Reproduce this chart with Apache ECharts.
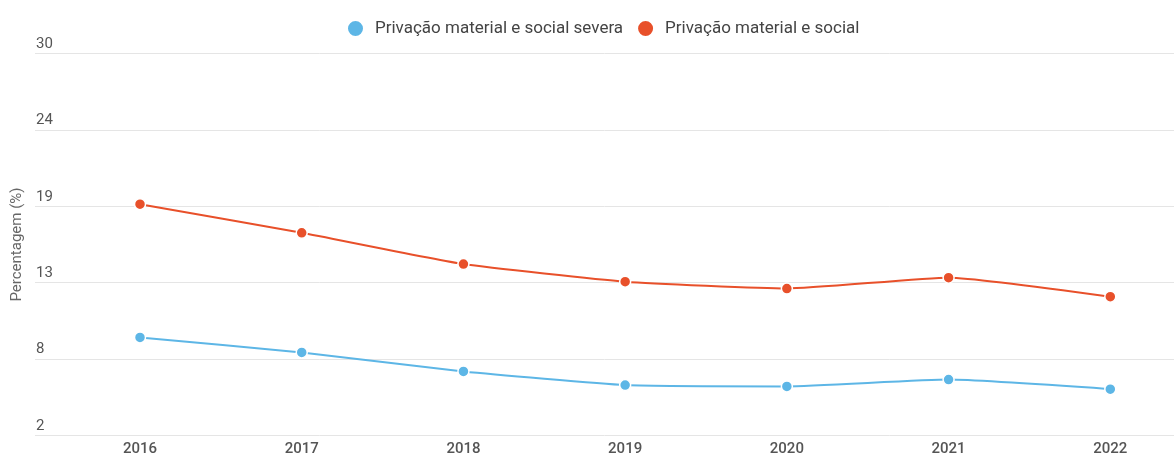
<!DOCTYPE html>
<html>
<head>
<meta charset="utf-8">
<script src="https://cdn.jsdelivr.net/npm/echarts@6/dist/echarts.min.js"></script>
<style>html,body{margin:0;padding:0;background:#fff;}#c{width:1174px;height:457px;}</style>
</head>
<body>
<div id="c"></div>
<script>
const years = ['2016', '2017', '2018', '2019', '2020', '2021', '2022'];
const severa = [9.1, 8.0, 6.6, 5.6, 5.5, 6.0, 5.3];
const social = [18.9, 16.8, 14.5, 13.2, 12.7, 13.5, 12.1];
const seriesNames = ['Privação material e social severa', 'Privação material e social'];
const yTicks = [2, 30];

const chart = echarts.init(document.getElementById('c'), null, {renderer: 'canvas'});
const font = 'Roboto, "Noto Sans", sans-serif';
const blue = '#5db6e6';
const red = '#e8502a';
chart.setOption({
  animation: false,
  textStyle: {fontFamily: font},
  legend: {
    top: 14, left: 341, itemWidth: 17, itemHeight: 17, itemGap: 13,
    icon: 'circle',
    textStyle: {fontSize: 17, color: '#444', fontFamily: font, padding: [0, 0, 0, 6]},
    data: seriesNames
  },
  grid: [
    {left: 35, right: 0, top: 53.3, bottom: 21.3, containLabel: false},
    {left: 140, right: 63.7, top: 53.3, bottom: 21.3, containLabel: false}
  ],
  xAxis: [
    {gridIndex: 0, type: 'category', data: years, show: false},
    {gridIndex: 1, type: 'category', data: years, boundaryGap: false,
     axisLine: {show: false}, axisTick: {show: false},
     axisLabel: {fontSize: 15, color: '#555', fontWeight: 500, margin: 8, fontFamily: font}}
  ],
  yAxis: [
    {gridIndex: 0, type: 'value', min: yTicks[0], max: yTicks[1], interval: 5.6,
     name: 'Percentagem (%)', nameLocation: 'middle', nameGap: 7, nameRotate: 90,
     nameTextStyle: {fontSize: 15, color: '#666', fontFamily: font},
     axisLine: {show: false}, axisTick: {show: false},
     axisLabel: {inside: true, verticalAlign: 'bottom', align: 'left', margin: 0, padding: [0, 0, 2, 1],
       fontSize: 15, color: '#555', fontFamily: font,
       formatter: v => String(Math.round(v))},
     splitLine: {show: true, lineStyle: {color: '#e5e5e5', width: 1}}},
    {gridIndex: 1, type: 'value', min: yTicks[0], max: yTicks[1], interval: 5.6, show: false,
     splitLine: {show: false}}
  ],
  series: [
    {name: seriesNames[0], type: 'line', xAxisIndex: 1, yAxisIndex: 1, data: severa,
     smooth: 0.15, symbol: 'circle', symbolSize: 11, color: blue,
     lineStyle: {width: 2, color: blue},
     itemStyle: {color: blue, borderColor: '#fff', borderWidth: 1.5}},
    {name: seriesNames[1], type: 'line', xAxisIndex: 1, yAxisIndex: 1, data: social,
     smooth: 0.15, symbol: 'circle', symbolSize: 11, color: red,
     lineStyle: {width: 2, color: red},
     itemStyle: {color: red, borderColor: '#fff', borderWidth: 1.5}}
  ]
});
</script>
</body>
</html>
